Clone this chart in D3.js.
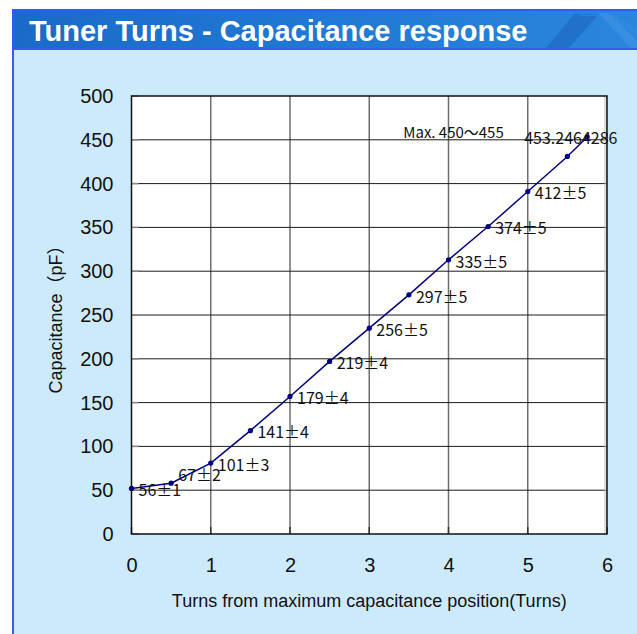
<!DOCTYPE html>
<html><head><meta charset="utf-8">
<script src="https://cdn.jsdelivr.net/npm/d3@7"></script>
<style>html,body{margin:0;padding:0;background:#fff;}svg{display:block;}</style>
</head><body>
<script>
const titleText = "Tuner Turns - Capacitance response";
const turns = [0, 0.5, 1, 1.5, 2, 2.5, 3, 3.5, 4, 4.5, 5, 5.5, 5.75];
const capacitance = [52, 58, 81, 118, 157, 197, 235, 273, 313, 351, 391, 431, 453.2464286];
const pointLabels = ["56±1","67±2","101±3","141±4","179±4","219±4","256±5","297±5","335±5","374±5","412±5","","453.2464286"];
const xTicks = [0,1,2,3,4,5,6];
const yTicks = [0,50,100,150,200,250,300,350,400,450,500];
const xTitle = "Turns from maximum capacitance position(Turns)";
const yTitle = "Capacitance（pF）";
const maxNote = "Max. 450～455";
const maxNotePos = [3.43, 458];
// label offsets (layout only)
const labelDx = [7,7,7,7,7,7,7,7,7,7,7,7,-63];
const labelDy = [2,-8,2,2,2,2,2,2,2,2,2,2,1];

const W = 637, H = 634;
const svg = d3.select("body").append("svg").attr("width", W).attr("height", H);
const defs = svg.append("defs");
const g1 = defs.append("linearGradient").attr("id","tb").attr("x1","0").attr("x2","1").attr("y1","0").attr("y2","0");
g1.append("stop").attr("offset","0").attr("stop-color","#1b6ac8");
g1.append("stop").attr("offset","0.5").attr("stop-color","#2079d4");
g1.append("stop").attr("offset","1").attr("stop-color","#2a86dc");

// panel
svg.append("rect").attr("x",13).attr("y",49).attr("width",W-13).attr("height",H-49).attr("fill","#cdeafd");
// title bar
svg.append("rect").attr("x",13).attr("y",10).attr("width",W-13).attr("height",39).attr("fill","url(#tb)");
// decoration
svg.append("path").attr("d","M545,49 L575,13 L600,13 L568,49 Z").attr("fill","#1a5fb8").attr("opacity",0.5);
svg.append("path").attr("d","M598,13 L632,49 L637,49 L637,40 L608,13 Z").attr("fill","#4b9ae6").attr("opacity",0.45);
svg.append("path").attr("d","M575,13 L612,13 L637,30 L637,36 L606,16 L582,16 Z").attr("fill","#3d8fe2").attr("opacity",0.4);
// borders
svg.append("rect").attr("x",12).attr("y",9).attr("width",W-12).attr("height",2).attr("fill","#3559f5");
svg.append("rect").attr("x",12).attr("y",48).attr("width",W-12).attr("height",2).attr("fill","#3559f5");
svg.append("rect").attr("x",12).attr("y",9).attr("width",2).attr("height",H-9).attr("fill","#3559f5");

svg.append("text").attr("x",29).attr("y",41).text(titleText)
  .attr("font-family","Liberation Sans, Arial, sans-serif").attr("font-weight","bold")
  .attr("font-size",29).attr("fill","#fff");

const L = 131.5, T = 96, R = 607, B = 534;
const x = d3.scaleLinear().domain([0,6]).range([L,R]);
const y = d3.scaleLinear().domain([0,500]).range([B,T]);

const plot = svg.append("g");
plot.append("rect").attr("x",L).attr("y",T).attr("width",R-L).attr("height",B-T).attr("fill","#fff");
// vertical gridlines
plot.selectAll(".vg").data(xTicks.slice(1,-1)).enter().append("line")
  .attr("x1",d=>x(d)).attr("x2",d=>x(d)).attr("y1",T).attr("y2",B)
  .attr("stroke","#6e6e6e").attr("stroke-width",1.5);
// horizontal gridlines
plot.selectAll(".hg").data(yTicks.slice(1,-1)).enter().append("line")
  .attr("x1",L).attr("x2",R).attr("y1",d=>y(d)).attr("y2",d=>y(d))
  .attr("stroke","#1a1a1a").attr("stroke-width",1);
// ticks inside
plot.selectAll(".yt").data(yTicks).enter().append("line")
  .attr("x1",L).attr("x2",L+7).attr("y1",d=>y(d)).attr("y2",d=>y(d))
  .attr("stroke","#888").attr("stroke-width",1.5);
plot.selectAll(".xt").data(xTicks).enter().append("line")
  .attr("x1",d=>x(d)).attr("x2",d=>x(d)).attr("y1",B).attr("y2",B-7)
  .attr("stroke","#333").attr("stroke-width",1.5);
// frame
plot.append("rect").attr("x",R-3).attr("y",T).attr("width",3).attr("height",B-T).attr("fill","#bbb").attr("opacity",0.5);
plot.append("rect").attr("x",L).attr("y",T).attr("width",R-L).attr("height",B-T)
  .attr("fill","none").attr("stroke","#111").attr("stroke-width",1.5);

// axes labels via d3 axes
const yAxis = svg.append("g").attr("transform",`translate(${L},0)`)
  .call(d3.axisLeft(y).tickValues(yTicks).tickSize(0).tickPadding(18));
yAxis.select(".domain").remove();
yAxis.selectAll("text").attr("font-family","Liberation Sans, Arial, sans-serif").attr("font-size",20).attr("fill","#111");
const xAxis = svg.append("g").attr("transform",`translate(0,${B})`)
  .call(d3.axisBottom(x).tickValues(xTicks).tickSize(0).tickPadding(24).tickFormat(d3.format("d")));
xAxis.select(".domain").remove();
xAxis.selectAll("text").attr("font-family","Liberation Sans, Arial, sans-serif").attr("font-size",20).attr("fill","#111");

svg.append("text").attr("x",(L+R)/2).attr("y",607).attr("text-anchor","middle").text(xTitle)
  .attr("font-family","Liberation Sans, Arial, sans-serif").attr("font-size",18).attr("fill","#111");
svg.append("text").attr("transform",`translate(62,${(T+B)/2}) rotate(-90)`).attr("text-anchor","middle").text(yTitle)
  .attr("font-family","Liberation Sans, Arial, 'Noto Sans CJK JP', sans-serif").attr("font-size",18).attr("fill","#111");

// series
const pts = turns.map((t,i)=>({t, v:capacitance[i], lab:pointLabels[i], dx:labelDx[i], dy:labelDy[i]}));
svg.append("path").datum(pts)
  .attr("d", d3.line().x(d=>x(d.t)).y(d=>y(d.v)))
  .attr("fill","none").attr("stroke","#000080").attr("stroke-width",1.5);
svg.selectAll(".pt").data(pts).enter().append("circle")
  .attr("cx",d=>x(d.t)).attr("cy",d=>y(d.v)).attr("r",2.6).attr("fill","#000080");
svg.selectAll(".lab").data(pts.filter(d=>d.lab)).enter().append("text")
  .attr("x",d=>x(d.t)+d.dx).attr("y",d=>y(d.v)+d.dy).attr("dy","0.36em")
  .text(d=>d.lab)
  .attr("font-family","'Noto Sans CJK JP', sans-serif").attr("font-size",16).attr("fill","#111");
svg.append("text").attr("x",x(maxNotePos[0])).attr("y",y(maxNotePos[1])).attr("dy","0.36em").text(maxNote)
  .attr("font-family","'Noto Sans CJK JP', sans-serif").attr("font-size",15).attr("fill","#111");
</script>
</body></html>
